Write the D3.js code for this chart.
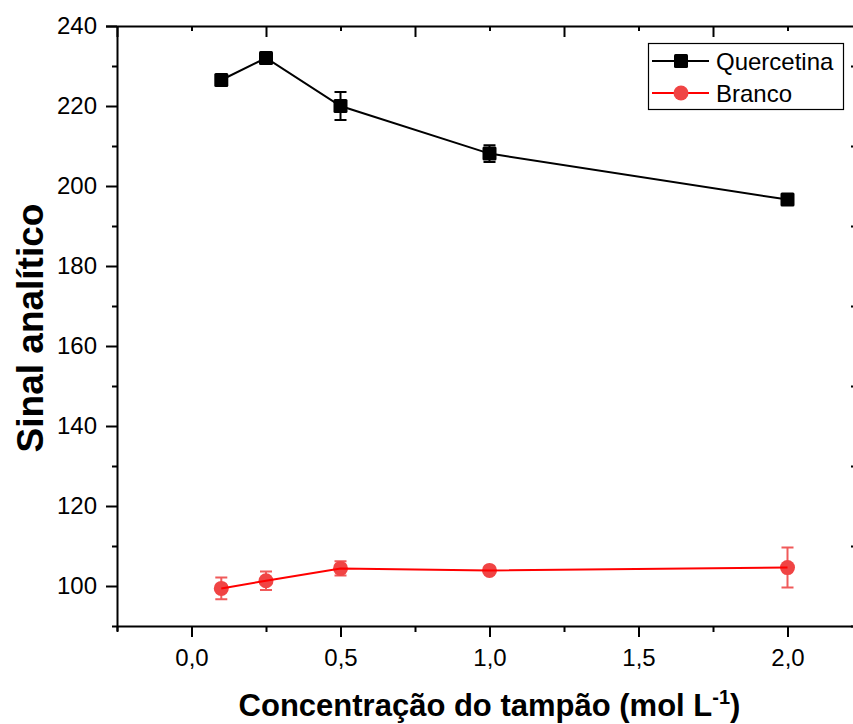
<!DOCTYPE html>
<html>
<head>
<meta charset="utf-8">
<script src="https://cdn.jsdelivr.net/npm/d3@7"></script>
<style>
  html, body { margin: 0; padding: 0; background: #fff; }
  svg { display: block; font-family: Arial, "Liberation Sans", sans-serif; }
</style>
</head>
<body>
<svg id="chart" width="853" height="724"></svg>
<script>
// Buffer concentration (mol/L)
const concentrations = [0.1, 0.25, 0.5, 1.0, 2.0];

// Analytical signal and standard deviations
const quercetinaValues = [226.5, 232.0, 220.0, 208.1, 196.6];
const quercetinaErrors = [1.0, 1.3, 3.5, 2.1, 1.0];
const brancoValues = [99.4, 101.3, 104.4, 103.9, 104.6];
const brancoErrors = [2.7, 2.3, 1.8, 0.4, 5.0];

const seriesNames = ["Quercetina", "Branco"];

// Axis ticks
const xMajorTicks = [0, 0.5, 1.0, 1.5, 2.0];
const xMinorTicks = [-0.25, 0.25, 0.75, 1.25, 1.75, 2.25];
const yMajorTicks = [100, 120, 140, 160, 180, 200, 220, 240];
const yMinorTicks = [90, 110, 130, 150, 170, 190, 210, 230];

const xDomain = [-0.25, 2.25];
const yDomain = [90, 240];

const margin = { left: 117, top: 26, right: 862, bottom: 626 };

const svg = d3.select("#chart");

const x = d3.scaleLinear().domain(xDomain).range([margin.left, margin.right]);
const y = d3.scaleLinear().domain(yDomain).range([margin.bottom, margin.top]);

const fmt = d => d3.format(".1f")(d).replace(".", ",");

function styleAxis(g) {
  g.select(".domain").attr("stroke", "#000").attr("stroke-width", 2);
  g.selectAll(".tick line").attr("stroke", "#000").attr("stroke-width", 2);
  g.selectAll(".tick text").attr("fill", "#000").attr("font-size", 24)
    .attr("font-family", "Arial, 'Liberation Sans', sans-serif");
}

// Bottom axis: majors with labels, minors outward
svg.append("g")
  .attr("transform", `translate(0,${margin.bottom})`)
  .call(d3.axisBottom(x).tickValues(xMinorTicks).tickSize(6).tickFormat("").tickSizeOuter(0))
  .call(styleAxis);
svg.append("g")
  .attr("transform", `translate(0,${margin.bottom})`)
  .call(d3.axisBottom(x).tickValues(xMajorTicks).tickSize(11).tickPadding(12).tickFormat(fmt).tickSizeOuter(0))
  .call(styleAxis)
  .call(g => g.select(".domain").remove());

// Top axis: ticks pointing inward
svg.append("g")
  .attr("transform", `translate(0,${margin.top})`)
  .call(d3.axisTop(x).tickValues(xMinorTicks).tickSize(-11).tickFormat("").tickSizeOuter(0))
  .call(styleAxis)
  .call(g => g.select(".domain").attr("d", `M${margin.left - 11},0.5H${margin.right}`));
svg.append("g")
  .attr("transform", `translate(0,${margin.top})`)
  .call(d3.axisTop(x).tickValues(xMajorTicks).tickSize(-5).tickFormat("").tickSizeOuter(0))
  .call(styleAxis)
  .call(g => g.select(".domain").remove());

// Left axis: outward ticks, labels on majors
svg.append("g")
  .attr("transform", `translate(${margin.left},0)`)
  .call(d3.axisLeft(y).tickValues(yMinorTicks).tickSize(5).tickFormat("").tickSizeOuter(0))
  .call(styleAxis)
  .call(g => g.select(".domain").attr("d", `M0.5,${margin.top}V${margin.bottom + 5}`));
svg.append("g")
  .attr("transform", `translate(${margin.left},0)`)
  .call(d3.axisLeft(y).tickValues(yMajorTicks).tickSize(11).tickPadding(9).tickFormat(d3.format("d")).tickSizeOuter(0))
  .call(styleAxis)
  .call(g => g.select(".domain").remove());

// Right axis: ticks pointing inward
svg.append("g")
  .attr("transform", `translate(${margin.right},0)`)
  .call(d3.axisRight(y).tickValues(yMinorTicks).tickSize(-11).tickFormat("").tickSizeOuter(0))
  .call(styleAxis);
svg.append("g")
  .attr("transform", `translate(${margin.right},0)`)
  .call(d3.axisRight(y).tickValues(yMajorTicks).tickSize(-5).tickFormat("").tickSizeOuter(0))
  .call(styleAxis)
  .call(g => g.select(".domain").remove());

// Axis titles
svg.append("text")
  .attr("x", (margin.left + margin.right) / 2)
  .attr("y", 716)
  .attr("text-anchor", "middle")
  .attr("font-size", 31)
  .attr("font-weight", "bold")
  .attr("fill", "#000")
  .call(t => {
    t.append("tspan").text("Concentração do tampão (mol L");
    t.append("tspan").attr("font-size", 20).attr("dy", -12).text("-1");
    t.append("tspan").attr("dy", 12).text(")");
  });

svg.append("text")
  .attr("transform", `translate(43,${(margin.top + margin.bottom) / 2 + 2}) rotate(-90)`)
  .attr("text-anchor", "middle")
  .attr("font-size", 37)
  .attr("font-weight", "bold")
  .attr("fill", "#000")
  .text("Sinal analítico");

const series = [
  { name: seriesNames[0], values: quercetinaValues, errors: quercetinaErrors,
    line: "#000000", marker: "#000000", err: "#000000", shape: "square" },
  { name: seriesNames[1], values: brancoValues, errors: brancoErrors,
    line: "#ff0000", marker: "#f04444", err: "#f05a5a", shape: "circle" }
];

const lineGen = d3.line().x(d => x(d[0])).y(d => y(d[1]));

function drawMarker(g, shape, cx, cy, color) {
  if (shape === "square") {
    g.append("rect")
      .attr("x", cx - 7).attr("y", cy - 7)
      .attr("width", 14).attr("height", 14)
      .attr("rx", 1.5)
      .attr("fill", color);
  } else {
    g.append("circle")
      .attr("cx", cx).attr("cy", cy).attr("r", 7.5)
      .attr("fill", color);
  }
}

series.forEach(s => {
  const g = svg.append("g");
  const pts = concentrations.map((c, i) => [c, s.values[i], s.errors[i]]);

  // error bars
  pts.forEach(p => {
    const cx = x(p[0]);
    const y1 = y(p[1] + p[2]);
    const y2 = y(p[1] - p[2]);
    g.append("path")
      .attr("d", `M${cx - 6},${y1}H${cx + 6}M${cx},${y1}V${y2}M${cx - 6},${y2}H${cx + 6}`)
      .attr("stroke", s.err).attr("stroke-width", 2).attr("fill", "none");
  });

  // markers
  pts.forEach(p => drawMarker(g, s.shape, x(p[0]), y(p[1]), s.marker));

  // connecting line
  g.append("path")
    .datum(pts)
    .attr("d", lineGen)
    .attr("fill", "none")
    .attr("stroke", s.line)
    .attr("stroke-width", 2);
});

// Legend
const legend = svg.append("g");
legend.append("rect")
  .attr("x", 648.5).attr("y", 43.5)
  .attr("width", 195).attr("height", 66)
  .attr("fill", "#fff").attr("stroke", "#000").attr("stroke-width", 1.2);

series.forEach((s, i) => {
  const cy = 61 + i * 32;
  legend.append("line")
    .attr("x1", 652).attr("x2", 709).attr("y1", cy).attr("y2", cy)
    .attr("stroke", s.line).attr("stroke-width", 2);
  drawMarker(legend, s.shape, 681, cy, s.marker);
  legend.append("text")
    .attr("x", 716).attr("y", cy + 8.5)
    .attr("font-size", 24)
    .attr("fill", "#000")
    .text(s.name);
});
</script>
</body>
</html>
